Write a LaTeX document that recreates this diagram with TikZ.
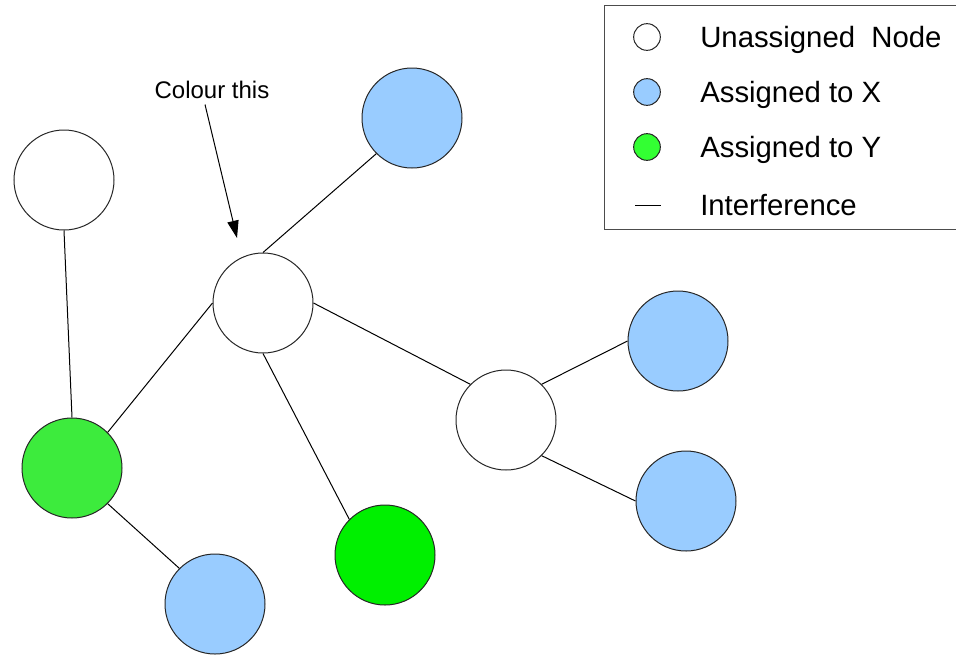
\documentclass[tikz,border=0pt]{standalone}
\usepackage{fontspec}
\setmainfont{Liberation Sans}
\usetikzlibrary{arrows.meta}
\definecolor{xblue}{HTML}{99CCFF}
\definecolor{ygreenA}{HTML}{3DEB3D}
\definecolor{ygreenB}{HTML}{00F000}
\definecolor{ygreenL}{HTML}{33FF33}
\tikzset{
  gnode/.style={circle, draw=black!85, line width=0.75pt, inner sep=0pt, minimum size=75pt},
  unassigned/.style={gnode, fill=white},
  xnode/.style={gnode, fill=xblue},
  ynodeA/.style={gnode, fill=ygreenA},
  ynodeB/.style={gnode, fill=ygreenB},
  lgnode/.style={circle, draw=black!85, line width=0.75pt, inner sep=0pt, minimum size=20pt},
  edge/.style={draw=black, line width=0.75pt},
  lgtext/.style={anchor=base west, inner sep=0pt, font=\fontsize{22}{26}\selectfont},
}
\begin{document}
\begin{tikzpicture}[x=0.75pt,y=-0.75pt]
\useasboundingbox (0,0) rectangle (956,654);
\clip (0,0) rectangle (956,654);
% legend box
\draw[draw=black!70, line width=0.75pt] (970,5) -- (604,5) -- (604,229) -- (970,229);
\node[lgnode, fill=white] (l1) at (647,37) {};
\node[lgnode, fill=xblue] (l2) at (647,92) {};
\node[lgnode, fill=ygreenL] (l3) at (647,147) {};
\coordinate (l4a) at (635,205);
\coordinate (l4b) at (661,205);
\draw[edge] (l4a) -- (l4b);
\node[lgtext] (t1) at (700,47) {Unassigned\ \ Node};
\node[lgtext] (t2) at (700,102) {Assigned to X};
\node[lgtext] (t3) at (700,157) {Assigned to Y};
\node[lgtext] (t4) at (700,215) {Interference};
% graph nodes
\node[unassigned] (A) at (64,180) {};
\node[unassigned] (C) at (263,303) {};
\node[xnode] (B) at (412,118) {};
\node[ynodeA] (G1) at (72,468) {};
\node[xnode] (X1) at (215,604) {};
\node[ynodeB] (G2) at (385,555) {};
\node[unassigned] (D) at (506,420) {};
\node[xnode] (X2) at (678,341) {};
\node[xnode] (X3) at (686,501) {};
% edges
\draw[edge] (A.south) -- (G1.north);
\draw[edge] (C.north) -- (B.south west);
\draw[edge] (C.west) -- (G1.north east);
\draw[edge] (C.south) -- (G2.north west);
\draw[edge] (C.east) -- (D.north west);
\draw[edge] (D.north east) -- (X2.west);
\draw[edge] (D.south east) -- (X3.west);
\draw[edge] (G1.south east) -- (X1.north west);
% annotation
\node[anchor=base, inner sep=0pt, font=\fontsize{18}{22}\selectfont] (lab) at (212,98) {Colour this};
\coordinate (tip) at (237,238);
\draw[edge, -{Triangle[length=13pt,width=8.5pt]}] (lab.south) ++(-7,6) -- (tip);
\end{tikzpicture}
\end{document}
